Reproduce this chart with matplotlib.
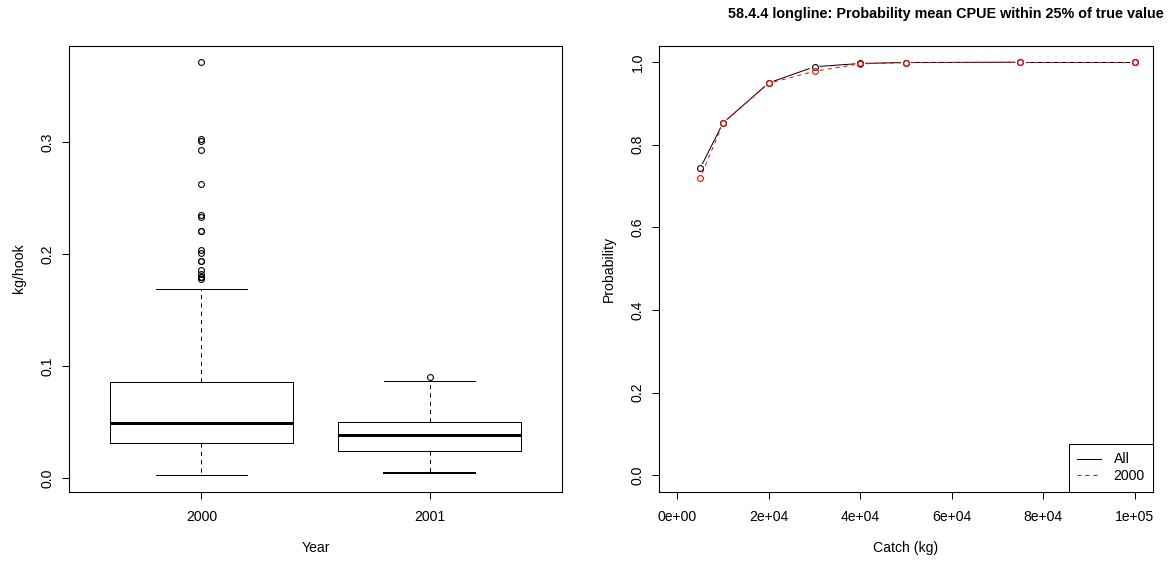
import matplotlib
matplotlib.use("Agg")
import matplotlib.pyplot as plt
import numpy as np

plt.rcParams['font.family'] = ['Liberation Sans', 'DejaVu Sans']
plt.rcParams['lines.scale_dashes'] = False

PX = 0.72  # one pixel in points at dpi 100

# ---- data: left panel (boxplot of kg/hook by year) ----
years = ['2000', '2001']
box_q1 = [0.0315, 0.0244]
box_med = [0.0493, 0.0386]
box_q3 = [0.0859, 0.0502]
whisk_lo = [0.0029, 0.0047]
whisk_hi = [0.1689, 0.0868]
fliers_2000 = [0.371, 0.303, 0.301, 0.293, 0.2625, 0.2348, 0.2335, 0.2208, 0.2203,
               0.2036, 0.2006, 0.194, 0.1935, 0.1857, 0.1827, 0.1800, 0.1792, 0.1774]
fliers_2001 = [0.0904]

# ---- data: right panel (probability vs catch) ----
catch = [5000, 10000, 20000, 30000, 40000, 50000, 75000, 100000]
prob_all = [0.743, 0.853, 0.950, 0.989, 0.997, 0.9993, 1.0, 1.0]
prob_2000 = [0.7196, 0.852, 0.949, 0.978, 0.996, 0.999, 1.0, 1.0]

W, H = 1172, 562
fig = plt.figure(figsize=(W / 100, H / 100), dpi=100)

def pos(x0, x1, y0, y1):
    return [x0 / W, 1 - y1 / H, (x1 - x0) / W, (y1 - y0) / H]

ax1 = fig.add_axes(pos(69, 562, 45.7, 491.6))
ax2 = fig.add_axes(pos(659, 1153, 45.7, 491.6))

fs = 14 * PX

for ax in (ax1, ax2):
    for s in ax.spines.values():
        s.set_linewidth(PX * 1.1)
    ax.tick_params(length=7.2 * PX, width=PX, labelsize=fs)
    ax.tick_params(axis='x', pad=8)
    ax.tick_params(axis='y', pad=5)

# ---- left: boxplot ----
fliers = [fliers_2000, fliers_2001]
stats = []
for i in range(len(years)):
    stats.append(dict(q1=box_q1[i], med=box_med[i], q3=box_q3[i],
                      whislo=whisk_lo[i], whishi=whisk_hi[i], fliers=fliers[i]))
bp = ax1.bxp(stats, positions=[1, 2], widths=0.8, capwidths=0.4, patch_artist=False,
             boxprops=dict(color='black', linewidth=PX),
             medianprops=dict(color='black', linewidth=3 * PX, solid_capstyle='butt'),
             whiskerprops=dict(color='black', linewidth=PX, linestyle=(0, (3, 3))),
             capprops=dict(color='black', linewidth=PX),
             flierprops=dict(marker='o', markerfacecolor='none', markeredgecolor='black',
                             markersize=4.2, markeredgewidth=PX * 1.1, linestyle='none'))
bp['caps'][2].set_linewidth(2 * PX)
ax1.set_xlim(0.42, 2.58)
ax1.set_ylim(-0.0118, 0.3859)
ax1.set_xticks([1, 2])
ax1.set_xticklabels(years)
ax1.set_yticks([0.0, 0.1, 0.2, 0.3])
ax1.set_yticklabels(['0.0', '0.1', '0.2', '0.3'], rotation=90, va='center')
ax1.set_xlabel('Year', fontsize=fs, labelpad=12)
ax1.set_ylabel('kg/hook', fontsize=fs, labelpad=11)

# ---- right: probability curves (R type="b": points with gaps) ----
ax2.set_xlim(-4000, 104000)
ax2.set_ylim(-0.04, 1.04)
ax2.set_xticks([0, 20000, 40000, 60000, 80000, 100000])
ax2.set_xticklabels(['0e+00', '2e+04', '4e+04', '6e+04', '8e+04', '1e+05'])
ax2.set_yticks([0.0, 0.2, 0.4, 0.6, 0.8, 1.0])
ax2.set_yticklabels(['0.0', '0.2', '0.4', '0.6', '0.8', '1.0'], rotation=90, va='center')
ax2.set_xlabel('Catch (kg)', fontsize=fs, labelpad=12)
ax2.set_ylabel('Probability', fontsize=fs, labelpad=11)

fig.canvas.draw()
trans = ax2.transData
inv = trans.inverted()
gap = 5.5  # pixels

def gapped(xs, ys, **kw):
    pts = trans.transform(np.column_stack([xs, ys]))
    for a, b in zip(pts[:-1], pts[1:]):
        d = b - a
        L = np.hypot(*d)
        if L <= 2 * gap:
            continue
        u = d / L
        seg = inv.transform(np.array([a + u * gap, b - u * gap]))
        ax2.plot(seg[:, 0], seg[:, 1], **kw)

gapped(catch, prob_all, color='black', linewidth=PX)
gapped(catch, prob_2000, color='red', linewidth=PX, dashes=(4 * PX, 4 * PX))
ax2.plot(catch, prob_all, linestyle='none', marker='o', markerfacecolor='none',
         markeredgecolor='black', markersize=4.2, markeredgewidth=PX * 1.1)
ax2.plot(catch, prob_2000, linestyle='none', marker='o', markerfacecolor='none',
         markeredgecolor='red', markersize=4.2, markeredgewidth=PX * 1.1)

h1, = ax2.plot([], [], color='black', linewidth=PX)
h2, = ax2.plot([], [], color='red', linewidth=PX, dashes=(4 * PX, 4 * PX))
leg = ax2.legend([h1, h2], ['All', '2000'], loc='lower right', borderaxespad=0,
                 fontsize=fs, fancybox=False, framealpha=1, edgecolor='black',
                 handlelength=1.7, handletextpad=0.9, labelspacing=0.2,
                 borderpad=0.6)
leg.get_frame().set_linewidth(PX)

fig.text(1164 / W, 1 - 14 / H, '58.4.4 longline: Probability mean CPUE within 25% of true value',
         ha='right', va='center', fontsize=14.4 * PX, fontweight='bold')

fig.savefig('out.png', dpi=100)
